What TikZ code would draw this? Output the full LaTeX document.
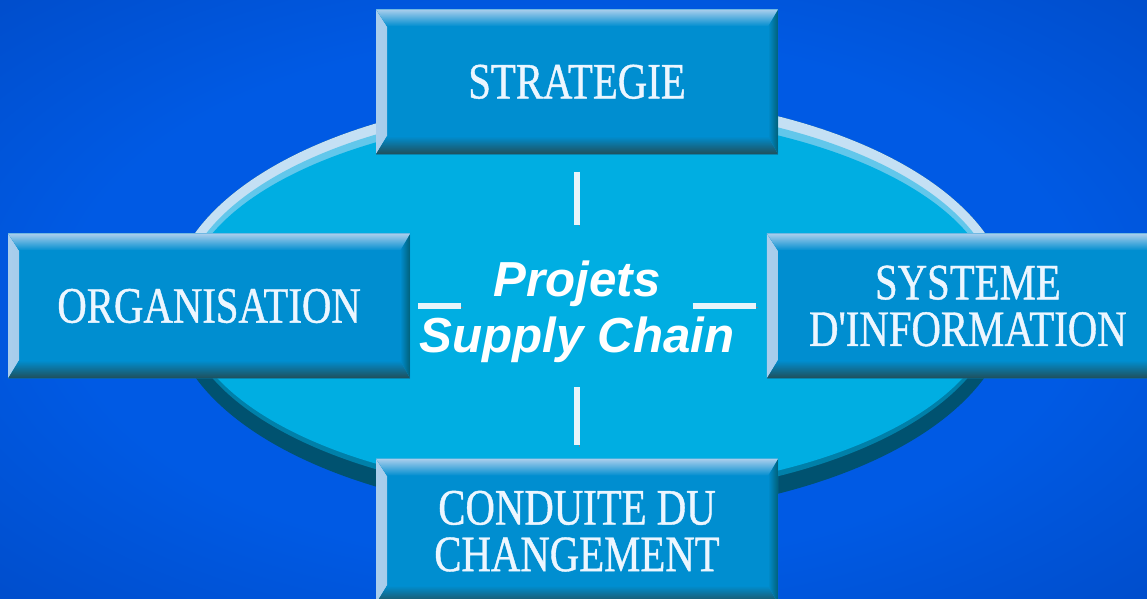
\documentclass[tikz,border=0pt]{standalone}
\usepackage{fontspec}
\usepackage{xcolor}
\usepackage{tikz}
\usetikzlibrary{positioning,shadings}

\newfontfamily\capfont[FakeStretch=0.8,FakeBold=0.8]{Liberation Serif}
\newfontfamily\hubfont{Liberation Sans}

\definecolor{bgdark}{RGB}{0,64,178}
\definecolor{bgbright}{RGB}{0,90,228}
\definecolor{lagoon}{RGB}{0,174,226}
\definecolor{rimlight}{RGB}{196,224,244}
\definecolor{rimdark}{RGB}{0,82,112}
\definecolor{face}{RGB}{0,142,208}
\definecolor{bevlight}{RGB}{170,206,236}
\definecolor{bevdark}{RGB}{32,78,88}
\definecolor{bevside}{RGB}{0,96,120}
\definecolor{capwhite}{RGB}{236,246,255}
\definecolor{barwhite}{RGB}{232,244,250}
\definecolor{bargray}{RGB}{120,130,140}

\pgfdeclareradialshading{bgglow}{\pgfpoint{0bp}{0bp}}{color(0bp)=(bgbright); color(22bp)=(bgbright); color(50bp)=(bgdark); color(72bp)=(bgdark)}

\begin{document}
\begin{tikzpicture}[
  pillar/.style={minimum width=8.04cm, minimum height=2.9cm, inner sep=0pt,
    fill=face, text=capwhite, align=center,
    font=\capfont\fontsize{29}{26.5}\selectfont,
    path picture={
      \fill[left color=bevlight, right color=face] (path picture bounding box.north west) -- (path picture bounding box.south west) -- ++(0.22,0.36) -- ([shift={(0.22,-0.34)}]path picture bounding box.north west) -- cycle;
      \fill[left color=face, right color=bevside] (path picture bounding box.north east) -- (path picture bounding box.south east) -- ++(-0.2,0.36) -- ([shift={(-0.2,-0.34)}]path picture bounding box.north east) -- cycle;
      \fill[top color=bevlight, bottom color=face] (path picture bounding box.north west) -- (path picture bounding box.north east) -- ++(-0.2,-0.34) -- ([shift={(0.22,-0.34)}]path picture bounding box.north west) -- cycle;
      \fill[top color=face, bottom color=bevdark] (path picture bounding box.south west) -- (path picture bounding box.south east) -- ++(-0.2,0.36) -- ([shift={(0.22,0.36)}]path picture bounding box.south west) -- cycle;
    }},
  hub/.style={minimum height=3.24cm, inner sep=0pt,
    text=white, align=center,
    font=\hubfont\bfseries\itshape\fontsize{28}{32}\selectfont},
  bar/.style={line width=0.11cm, draw=barwhite,
    preaction={draw=bargray, transform canvas={xshift=0.04cm, yshift=-0.03cm}}}
    ]

\useasboundingbox (0,0) rectangle (22.94,11.98);
\shade[shading=bgglow] (0,0) rectangle (22.94,11.98);

\fill[rimdark] (11.8,5.88) ellipse (8.4 and 4.22);
\begin{scope}
\clip (0,5.88) rectangle (22.94,11.98);
\fill[rimlight] (11.8,5.88) ellipse (8.4 and 4.22);
\fill[rimlight!50!lagoon] (11.8,5.92) ellipse (8.2 and 3.95);
\end{scope}
\begin{scope}
\clip (0,0) rectangle (22.94,5.88);
\fill[rimdark!50!lagoon] (11.8,5.92) ellipse (8.18 and 3.9);
\end{scope}
\fill[lagoon] (11.8,5.92) ellipse (8.12 and 3.78);

\node[hub] (proj) at (11.54,5.86) {\rule{0pt}{27pt}Projets\\Supply Chain};
\node[pillar, above=1.4cm of proj] (strat) {STRATEGIE};
\node[pillar, left=0.18cm of proj] (orga) {ORGANISATION};
\node[pillar, right=0.64cm of proj] (sysinfo) {SYSTEME\\D'INFORMATION};
\node[pillar, below=1.42cm of proj] (change) {CONDUITE DU\\CHANGEMENT};

\draw[bar, shorten <=0.34cm] (strat) -- (proj);
\draw[bar, shorten >=0.26cm] (proj) -- (change);
\draw[bar, shorten <=0.16cm, shorten >=-0.84cm] (orga) -- (proj);
\draw[bar, shorten <=-0.84cm, shorten >=0.22cm] (proj) -- (sysinfo);

\end{tikzpicture}
\end{document}
